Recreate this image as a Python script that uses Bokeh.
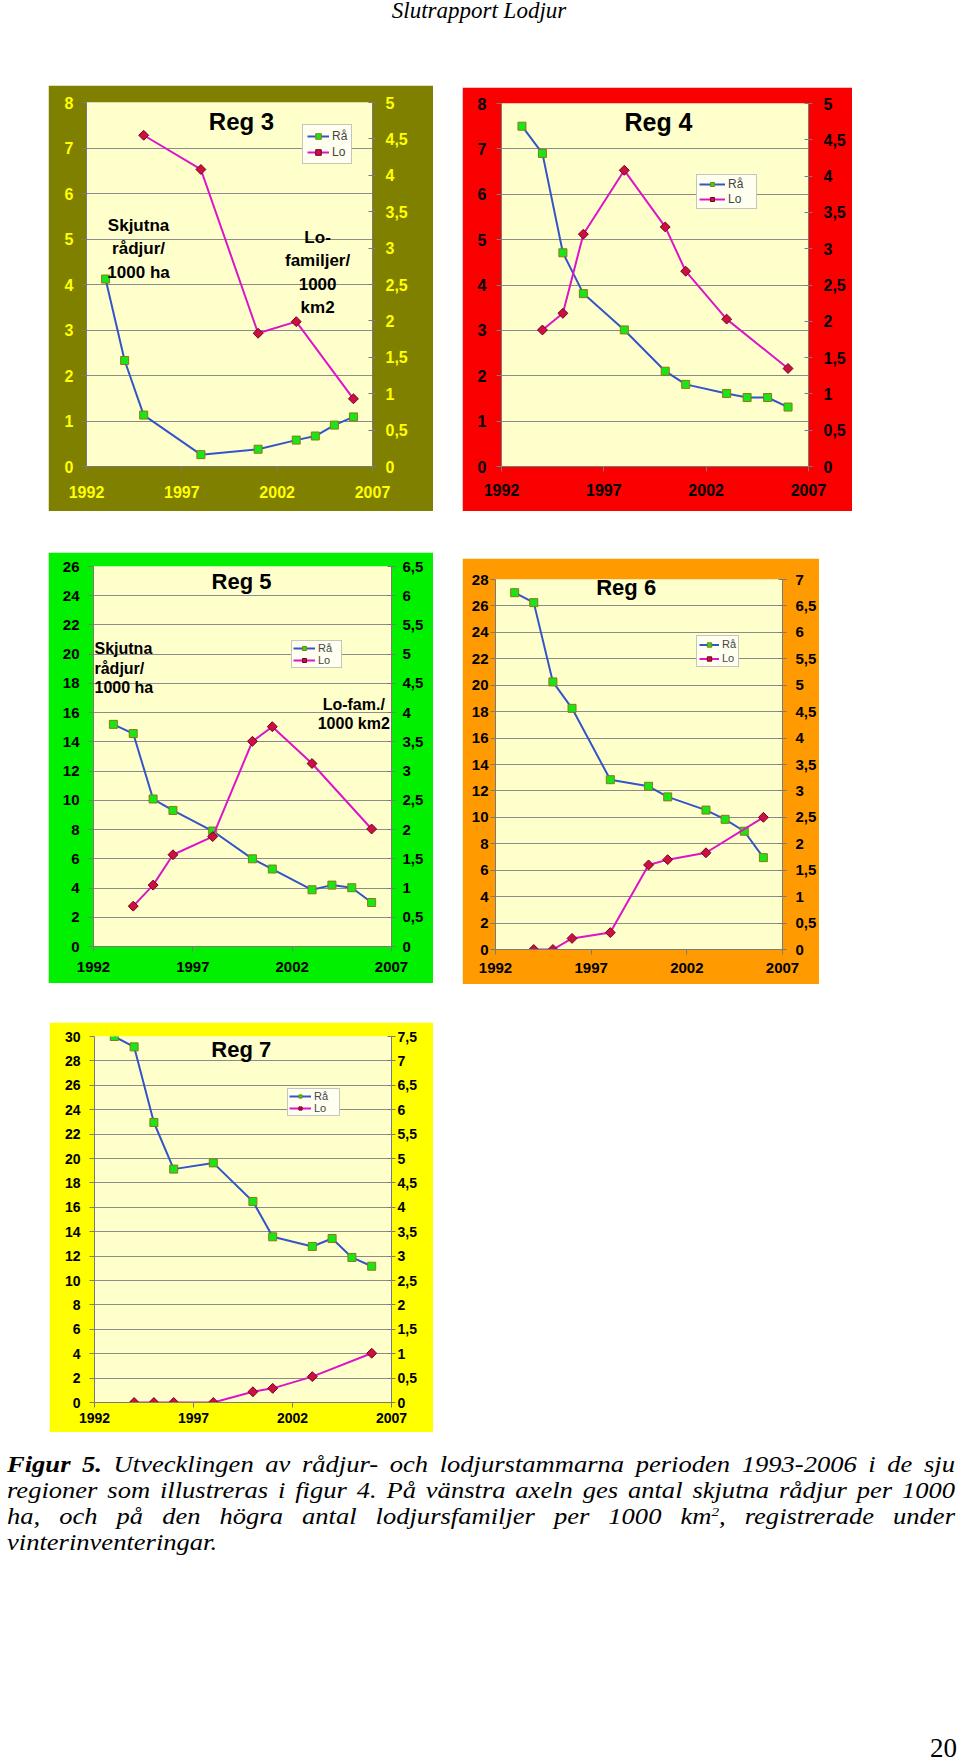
import math
from bokeh.plotting import figure
from bokeh.models import (Range1d, LinearAxis, FixedTicker, Grid, Legend, LegendItem,
                          Label, Div, Spacer, ColumnDataSource)
from bokeh.layouts import column, row
from bokeh.embed import file_html
from bokeh.resources import INLINE

# ------------------------------------------------------------------ data
year_ticks = [1992, 1997, 2002, 2007]
year_labels = ["1992", "1997", "2002", "2007"]

# Reg 3
reg3_ra_years = [1993, 1994, 1995, 1998, 2001, 2003, 2004, 2005, 2006]
reg3_ra = [4.12, 2.33, 1.13, 0.26, 0.38, 0.58, 0.67, 0.91, 1.09]
reg3_lo_years = [1995, 1998, 2001, 2003, 2006]
reg3_lo = [4.55, 4.08, 1.83, 1.99, 0.93]
reg3_left_ticks = [0, 1, 2, 3, 4, 5, 6, 7, 8]
reg3_left_labels = ["0", "1", "2", "3", "4", "5", "6", "7", "8"]
reg3_right_ticks = [0, 0.5, 1, 1.5, 2, 2.5, 3, 3.5, 4, 4.5, 5]
reg3_right_labels = ["0", "0,5", "1", "1,5", "2", "2,5", "3", "3,5", "4", "4,5", "5"]

# Reg 4
reg4_ra_years = [1993, 1994, 1995, 1996, 1998, 2000, 2001, 2003, 2004, 2005, 2006]
reg4_ra = [7.50, 6.90, 4.71, 3.81, 3.01, 2.10, 1.81, 1.61, 1.52, 1.52, 1.31]
reg4_lo_years = [1994, 1995, 1996, 1998, 2000, 2001, 2003, 2006]
reg4_lo = [1.88, 2.11, 3.20, 4.08, 3.30, 2.69, 2.03, 1.35]
reg4_left_ticks = [0, 1, 2, 3, 4, 5, 6, 7, 8]
reg4_left_labels = ["0", "1", "2", "3", "4", "5", "6", "7", "8"]
reg4_right_ticks = [0, 0.5, 1, 1.5, 2, 2.5, 3, 3.5, 4, 4.5, 5]
reg4_right_labels = ["0", "0,5", "1", "1,5", "2", "2,5", "3", "3,5", "4", "4,5", "5"]

# Reg 5
reg5_ra_years = [1993, 1994, 1995, 1996, 1998, 2000, 2001, 2003, 2004, 2005, 2006]
reg5_ra = [15.2, 14.57, 10.09, 9.31, 7.90, 6.0, 5.3, 3.88, 4.2, 4.02, 3.01]
reg5_lo_years = [1994, 1995, 1996, 1998, 2000, 2001, 2003, 2006]
reg5_lo = [0.69, 1.05, 1.57, 1.88, 3.51, 3.76, 3.13, 2.01]
reg5_left_ticks = [0, 2, 4, 6, 8, 10, 12, 14, 16, 18, 20, 22, 24, 26]
reg5_left_labels = ["0", "2", "4", "6", "8", "10", "12", "14", "16", "18", "20", "22", "24", "26"]
reg5_right_ticks = [0, 0.5, 1, 1.5, 2, 2.5, 3, 3.5, 4, 4.5, 5, 5.5, 6, 6.5]
reg5_right_labels = ["0", "0,5", "1", "1,5", "2", "2,5", "3", "3,5", "4", "4,5", "5", "5,5", "6", "6,5"]

# Reg 6
reg6_ra_years = [1993, 1994, 1995, 1996, 1998, 2000, 2001, 2003, 2004, 2005, 2006]
reg6_ra = [27.0, 26.25, 20.25, 18.25, 12.85, 12.35, 11.55, 10.55, 9.85, 8.95, 6.95]
reg6_lo_years = [1994, 1995, 1996, 1998, 2000, 2001, 2003, 2006]
reg6_lo = [0.0, 0.0, 0.21, 0.32, 1.60, 1.70, 1.83, 2.50]
reg6_left_ticks = [0, 2, 4, 6, 8, 10, 12, 14, 16, 18, 20, 22, 24, 26, 28]
reg6_left_labels = ["0", "2", "4", "6", "8", "10", "12", "14", "16", "18", "20", "22", "24", "26", "28"]
reg6_right_ticks = [0, 0.5, 1, 1.5, 2, 2.5, 3, 3.5, 4, 4.5, 5, 5.5, 6, 6.5, 7]
reg6_right_labels = ["0", "0,5", "1", "1,5", "2", "2,5", "3", "3,5", "4", "4,5", "5", "5,5", "6", "6,5", "7"]

# Reg 7
reg7_ra_years = [1993, 1994, 1995, 1996, 1998, 2000, 2001, 2003, 2004, 2005, 2006]
reg7_ra = [30.0, 29.15, 22.95, 19.13, 19.64, 16.48, 13.58, 12.79, 13.44, 11.89, 11.17]
reg7_lo_years = [1994, 1995, 1996, 1998, 2000, 2001, 2003, 2006]
reg7_lo = [0.0, 0.0, 0.0, 0.0, 0.22, 0.29, 0.53, 1.01]
reg7_left_ticks = [0, 2, 4, 6, 8, 10, 12, 14, 16, 18, 20, 22, 24, 26, 28, 30]
reg7_left_labels = ["0", "2", "4", "6", "8", "10", "12", "14", "16", "18", "20", "22", "24", "26", "28", "30"]
reg7_right_ticks = [0, 0.5, 1, 1.5, 2, 2.5, 3, 3.5, 4, 4.5, 5, 5.5, 6, 6.5, 7, 7.5]
reg7_right_labels = ["0", "0,5", "1", "1,5", "2", "2,5", "3", "3,5", "4", "4,5", "5", "5,5", "6", "6,5", "7", "7,5"]

series_names = ["Rå", "Lo"]
header_text = "Slutrapport Lodjur"
caption_lines = [
    "<b>Figur 5.</b> Utvecklingen av rådjur- och lodjurstammarna perioden 1993-2006 i de sju",
    "regioner som illustreras i figur 4. På vänstra axeln ges antal skjutna rådjur per 1000",
    "ha, och på den högra antal lodjursfamiljer per 1000 km<sup style=\"font-size:13px;line-height:0;vertical-align:8px\">2</sup>, registrerade under",
    "vinterinventeringar.",
]
page_number = "20"

# ------------------------------------------------------------------ styles
FONT = "Liberation Sans"
PLOT_BG = "#FFFFCC"
RA_LINE = "#3355C8"
RA_FILL = "#19E619"
RA_EDGE = "#8A7A10"
LO_LINE = "#DD14C8"
LO_FILL = "#CC1040"
LO_EDGE = "#700020"


def make_panel(ra_x, ra_y, lo_x, lo_y, lt, ll, rt, rl, st, notes):
    p = figure(width=st["w"], height=st["h"], x_range=Range1d(1992, 2007),
               y_range=Range1d(0, lt[-1]), output_backend="svg", toolbar_location=None,
               x_axis_type=None, y_axis_type=None,
               min_border_left=st["bl"], min_border_right=st["br"],
               min_border_top=st["bt"], min_border_bottom=st["bb"],
               border_fill_color=st["frame"], background_fill_color=PLOT_BG,
               outline_line_color=None)
    p.margin = 0
    p.extra_y_ranges = {"lo": Range1d(0, rt[-1])}

    def style(ax, size, stand, tin=0, tout=5):
        ax.axis_line_color = "#7a7a7a"
        ax.major_tick_line_color = "#7a7a7a"
        ax.minor_tick_line_color = None
        ax.major_tick_in = tin
        ax.major_tick_out = tout
        ax.major_label_standoff = stand
        ax.major_label_text_font = FONT
        ax.major_label_text_font_style = "bold"
        ax.major_label_text_font_size = size
        ax.major_label_text_color = st["tick_color"]

    xa = LinearAxis(ticker=FixedTicker(ticks=year_ticks),
                    major_label_overrides=dict(zip(year_ticks, year_labels)))
    style(xa, st["xsize"], st["xstand"])
    p.add_layout(xa, "below")

    lticker = FixedTicker(ticks=lt)
    ya = LinearAxis(ticker=lticker, major_label_overrides=dict(zip(lt, ll)))
    style(ya, st["ysize"], st["lstand"])
    p.add_layout(ya, "left")

    ra = LinearAxis(y_range_name="lo", ticker=FixedTicker(ticks=rt),
                    major_label_overrides=dict(zip(rt, rl)))
    style(ra, st["rsize"], st["rstand"], tin=4, tout=4)
    p.add_layout(ra, "right")

    p.add_layout(Grid(dimension=1, ticker=lticker, grid_line_color="#8c8c8c",
                      grid_line_width=1))

    ra_src = ColumnDataSource(dict(x=ra_x, y=ra_y))
    lo_src = ColumnDataSource(dict(x=lo_x, y=lo_y))
    l1 = p.line("x", "y", source=ra_src, line_color=RA_LINE, line_width=2)
    s1 = p.scatter("x", "y", source=ra_src, marker="square", size=st["ms"],
                   fill_color=RA_FILL, line_color=RA_EDGE, line_width=1)
    l2 = p.line("x", "y", source=lo_src, y_range_name="lo", line_color=LO_LINE, line_width=2)
    s2 = p.scatter("x", "y", source=lo_src, y_range_name="lo", marker="square",
                   angle=math.pi / 4, size=st["ms"] - 1,
                   fill_color=LO_FILL, line_color=LO_EDGE, line_width=1)

    leg = Legend(items=[LegendItem(label=series_names[0], renderers=[l1, s1]),
                        LegendItem(label=series_names[1], renderers=[l2, s2])],
                 location=st["lloc"], orientation="vertical",
                 glyph_width=st["gw"], glyph_height=st["gh"],
                 label_height=st["gh"], label_width=st["lw"],
                 label_text_font=FONT, label_text_font_size=st["lsize"],
                 label_standoff=3, padding=st["pad"], spacing=st["sp"], margin=0,
                 border_line_color="#8c8c8c", border_line_width=1,
                 background_fill_color="#FFFFF0", background_fill_alpha=1.0)
    p.add_layout(leg)

    for (txt, x, y, size, align) in notes:
        p.add_layout(Label(x=x, y=y, text=txt, text_font=FONT, text_font_style="bold",
                           text_font_size=size, text_align=align, text_baseline="middle",
                           text_color="#000000"))
    return p


st3 = dict(w=385, h=426, bl=38, br=61, bt=17, bb=45, frame="#7F7F00", tick_color="#FFFF00",
           xsize="16px", ysize="16px", rsize="16px", xstand=14, lstand=8, rstand=9,
           ms=8, lloc=(216, 302), gw=22, gh=14, lw=14, lsize="12px", pad=4, sp=2)
notes3 = [("Reg 3", 2000.13, 7.58, "24px", "center"),
          ("Skjutna", 1994.73, 5.30, "17px", "center"),
          ("rådjur/", 1994.73, 4.79, "17px", "center"),
          ("1000 ha", 1994.73, 4.26, "17px", "center"),
          ("Lo-", 2004.12, 5.03, "17px", "center"),
          ("familjer/", 2004.12, 4.53, "17px", "center"),
          ("1000", 2004.12, 4.02, "17px", "center"),
          ("km2", 2004.12, 3.49, "17px", "center")]
p3 = make_panel(reg3_ra_years, reg3_ra, reg3_lo_years, reg3_lo, reg3_left_ticks,
                reg3_left_labels, reg3_right_ticks, reg3_right_labels, st3, notes3)

st4 = dict(w=390, h=424, bl=39, br=44, bt=16, bb=45, frame="#FA0000", tick_color="#000000",
           xsize="16px", ysize="16px", rsize="16px", xstand=12, lstand=10, rstand=11,
           ms=8, lloc=(195, 257), gw=26, gh=10, lw=26, lsize="12px", pad=2, sp=1)
notes4 = [("Reg 4", 1999.67, 7.6, "25px", "center")]
p4 = make_panel(reg4_ra_years, reg4_ra, reg4_lo_years, reg4_lo, reg4_left_ticks,
                reg4_left_labels, reg4_right_ticks, reg4_right_labels, st4, notes4)

st5 = dict(w=385, h=431, bl=45, br=42, bt=14, bb=37, frame="#00F000", tick_color="#000000",
           xsize="15px", ysize="15px", rsize="15px", xstand=10, lstand=9, rstand=7,
           ms=8, lloc=(198, 278), gw=22, gh=10, lw=22, lsize="11px", pad=1, sp=0)
notes5 = [("Reg 5", 1999.45, 24.95, "22px", "center"),
          ("Skjutna", 1992.05, 20.4, "16px", "left"),
          ("rådjur/", 1992.05, 19.03, "16px", "left"),
          ("1000 ha", 1992.05, 17.7, "16px", "left"),
          ("Lo-fam./", 2005.1, 16.57, "16px", "center"),
          ("1000 km2", 2005.1, 15.25, "16px", "center")]
p5 = make_panel(reg5_ra_years, reg5_ra, reg5_lo_years, reg5_lo, reg5_left_ticks,
                reg5_left_labels, reg5_right_ticks, reg5_right_labels, st5, notes5)

st6 = dict(w=357, h=426, bl=33, br=37, bt=21, bb=35, frame="#FF9A00", tick_color="#000000",
           xsize="15px", ysize="15px", rsize="15px", xstand=8, lstand=2, rstand=9,
           ms=8, lloc=(201, 282), gw=20, gh=11, lw=14, lsize="11px", pad=2, sp=2)
notes6 = [("Reg 6", 1998.83, 27.36, "22px", "center")]
p6 = make_panel(reg6_ra_years, reg6_ra, reg6_lo_years, reg6_lo, reg6_left_ticks,
                reg6_left_labels, reg6_right_ticks, reg6_right_labels, st6, notes6)

st7 = dict(w=384, h=410, bl=45, br=42, bt=14, bb=30, frame="#FFFF00", tick_color="#000000",
           xsize="14px", ysize="14px", rsize="14px", xstand=5, lstand=9, rstand=2,
           ms=8, lloc=(193, 286), gw=22, gh=8, lw=24, lsize="11px", pad=1, sp=0)
notes7 = [("Reg 7", 1999.41, 28.9, "22px", "center")]
p7 = make_panel(reg7_ra_years, reg7_ra, reg7_lo_years, reg7_lo, reg7_left_ticks,
                reg7_left_labels, reg7_right_ticks, reg7_right_labels, st7, notes7)

# ------------------------------------------------------------------ page
serif = "font-family:'Liberation Serif','Times New Roman',serif;color:#000;"
header = Div(text=f'<div style="position:relative;top:-1px;width:958px;text-align:center;{serif}'
                  f'font-style:italic;font-size:23px;line-height:23px;">{header_text}</div>',
             width=958, height=38, margin=0, styles={"overflow": "visible"})

SX = 1.18
cap_html = ""
for i, ln in enumerate(caption_lines):
    last = (i == len(caption_lines) - 1)
    align = "text-align:left;" if last else "text-align:justify;text-align-last:justify;"
    cap_html += (f'<div style="white-space:nowrap;{align}{serif}font-style:italic;'
                 f'font-size:22.5px;line-height:26px;width:{948 / SX:.1f}px;'
                 f'transform:scaleX({SX});transform-origin:0 0;">{ln}</div>')
caption = Div(text=cap_html, width=948, height=104, margin=0, styles={"overflow": "visible"})

pnum = Div(text=f'<div style="position:relative;top:3px;width:957px;text-align:right;{serif}'
                f'font-size:27px;line-height:20px;">{page_number}</div>',
           width=957, height=20, margin=0, styles={"overflow": "visible"})

layout = column(
    header,
    Spacer(height=47, width=10),
    row(Spacer(width=48, height=10), p3, Spacer(width=29, height=10),
        column(Spacer(height=2, width=10), p4)),
    Spacer(height=41, width=10),
    row(Spacer(width=48, height=10), p5, Spacer(width=29, height=10),
        column(Spacer(height=6, width=10), p6)),
    Spacer(height=38, width=10),
    row(Spacer(width=49, height=10), p7),
    Spacer(height=20, width=10),
    row(Spacer(width=7, height=10), caption),
    Spacer(height=179, width=10),
    pnum,
)

with open("out.html", "w", encoding="utf-8") as f:
    f.write(file_html(layout, INLINE, title="Figur 5"))
